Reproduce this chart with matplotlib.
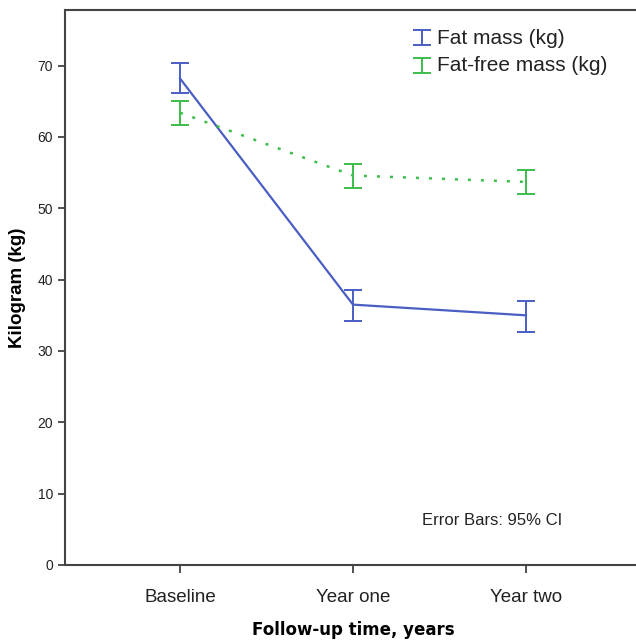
import numpy as np
import matplotlib.pyplot as plt
from matplotlib.container import ErrorbarContainer
from matplotlib.legend_handler import HandlerErrorbar

# data
times = ['Baseline', 'Year one', 'Year two']
fat_mean = [68.2, 36.5, 35.0]
fat_lo = [66.1, 34.2, 32.7]
fat_hi = [70.4, 38.6, 37.0]
ffm_mean = [63.4, 54.6, 53.7]
ffm_lo = [61.7, 52.9, 52.0]
ffm_hi = [65.1, 56.2, 55.4]

blue = '#4a5ec4'
green = '#3dbd4c'

fig = plt.figure(figsize=(6.36, 6.42), dpi=100)
ax = fig.add_axes([65/636, 77/642, 576/636, 555/642])

x = np.arange(len(times))
fat_err = [np.array(fat_mean) - np.array(fat_lo), np.array(fat_hi) - np.array(fat_mean)]
ffm_err = [np.array(ffm_mean) - np.array(ffm_lo), np.array(ffm_hi) - np.array(ffm_mean)]

ax.plot(x, fat_mean, color=blue, lw=1.6)
ax.plot(x, ffm_mean, color=green, lw=1.8, dashes=(1.2, 4.0))
e1 = ax.errorbar(x, fat_mean, yerr=fat_err, fmt='none', ecolor=blue, elinewidth=1.4,
                 capsize=6.5, capthick=1.4)
e2 = ax.errorbar(x, ffm_mean, yerr=ffm_err, fmt='none', ecolor=green, elinewidth=1.4,
                 capsize=6.5, capthick=1.4)

ax.set_xlim(-0.665, 2.665)
ax.set_ylim(0, 77.8)
ax.set_xticks(x)
ax.set_xticklabels(times, fontsize=13.5, family='Liberation Sans', color='#222222')
ax.set_yticks(np.arange(0, 80, 10))
ax.tick_params(axis='y', labelsize=10, length=5, width=1.2, colors='#333333', labelcolor='#222222')
ax.tick_params(axis='x', length=6, width=1.2, colors='#333333', labelcolor='#222222', pad=11)
for t in ax.get_yticklabels():
    t.set_family('Liberation Sans')

for s in ['left', 'top', 'bottom', 'right']:
    ax.spines[s].set_color('#444444')
    ax.spines[s].set_linewidth(1.5)

ax.set_xlabel('Follow-up time, years', fontsize=12, fontweight='bold', labelpad=11)
ax.set_ylabel('Kilogram (kg)', fontsize=13.5, fontweight='bold',
              family='Liberation Sans', labelpad=8)

ax.text(0.62, 0.08, 'Error Bars: 95% CI', transform=ax.transAxes, fontsize=12,
        family='Liberation Sans', color='#222222', va='center')

leg = ax.legend([e1, e2], ['Fat mass (kg)', 'Fat-free mass (kg)'], loc='upper left',
                bbox_to_anchor=(0.58, 1.0), frameon=False, handlelength=0.4,
                handleheight=0.4, handletextpad=0.5, labelspacing=0.42,
                handler_map={ErrorbarContainer: HandlerErrorbar(xerr_size=0.25, yerr_size=0.36)},
                prop={'family': 'Liberation Sans', 'size': 15})
for t in leg.get_texts():
    t.set_color('#222222')

fig.savefig('out.png', dpi=100)
